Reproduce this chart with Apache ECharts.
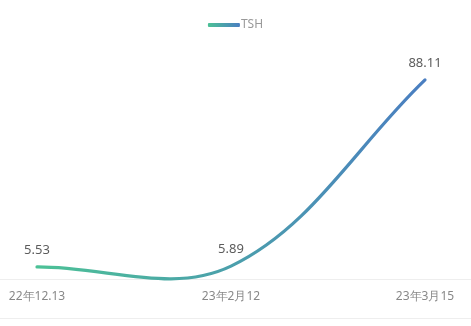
<!DOCTYPE html>
<html>
<head>
<meta charset="utf-8">
<script src="https://cdn.jsdelivr.net/npm/echarts@6/dist/echarts.min.js"></script>
<style>html,body{margin:0;padding:0;background:#fff;}#c{width:471px;height:326px;}</style>
</head>
<body>
<div id="c"></div>
<script>
var categories = ['22年12.13', '23年2月12', '23年3月15'];
var tshValues = [5.53, 5.89, 88.11];
var seriesName = 'TSH';

var SMOOTH = 0.36;
var C0 = '#4cc196', C1 = '#4a7ec1';

function renderItem(params, api) {
  var n = tshValues.length;
  var pts = [];
  for (var i = 0; i < n; i++) pts.push(api.coord([i, tshValues[i]]));
  var idx = params.dataIndexInside;
  var children = [];
  if (idx === 0) {
    var cps = pts.map(function (p, i) {
      var prev = pts[Math.max(0, i - 1)], next = pts[Math.min(n - 1, i + 1)];
      var vx = (next[0] - prev[0]) * SMOOTH, vy = (next[1] - prev[1]) * SMOOTH;
      var d0 = Math.hypot(p[0] - prev[0], p[1] - prev[1]);
      var d1 = Math.hypot(p[0] - next[0], p[1] - next[1]);
      var s = d0 + d1 || 1;
      d0 /= s; d1 /= s;
      return { c0: [p[0] - vx * d0, p[1] - vy * d0], c1: [p[0] + vx * d1, p[1] + vy * d1] };
    });
    var d = 'M' + pts[0][0] + ',' + pts[0][1];
    for (var k = 0; k < n - 1; k++) {
      var a = cps[k].c1, b = cps[k + 1].c0, e = pts[k + 1];
      d += ' C' + a[0] + ',' + a[1] + ' ' + b[0] + ',' + b[1] + ' ' + e[0] + ',' + e[1];
    }
    children.push({
      type: 'path',
      shape: { pathData: d },
      style: {
        fill: null,
        stroke: new echarts.graphic.LinearGradient(pts[0][0], 0, pts[n - 1][0], 0, [
          { offset: 0, color: C0 }, { offset: 1, color: C1 }
        ], true),
        lineWidth: 3.2,
        lineCap: 'round'
      }
    });
  }
  var p = pts[idx];
  children.push({
    type: 'text',
    style: {
      text: String(tshValues[idx]),
      x: p[0], y: p[1] - 10,
      align: 'center', verticalAlign: 'bottom',
      fill: '#5c5c5c',
      font: '13px "Noto Sans", sans-serif'
    },
    z2: 10
  });
  return { type: 'group', children: children };
}

var chart = echarts.init(document.getElementById('c'));
chart.setOption({
  animation: false,
  textStyle: { fontFamily: '"Noto Sans", sans-serif' },
  legend: {
    top: 14,
    left: 'center',
    itemWidth: 32,
    itemHeight: 4,
    itemGap: 4,
    data: [{
      name: seriesName,
      icon: 'roundRect',
      itemStyle: { color: new echarts.graphic.LinearGradient(0, 0, 1, 0, [
        { offset: 0, color: C0 }, { offset: 1, color: C1 }
      ]) }
    }],
    textStyle: { color: '#999', fontSize: 12, padding: [0, 0, 0, -4] }
  },
  grid: { left: 37, right: 46, top: 53, bottom: 46.5, containLabel: false },
  graphic: [
    { type: 'line', shape: { x1: 0, y1: 279.5, x2: 471, y2: 279.5 }, style: { stroke: '#eeeeee', lineWidth: 1 }, z: 0 },
    { type: 'line', shape: { x1: 0, y1: 318.5, x2: 471, y2: 318.5 }, style: { stroke: '#eeeeee', lineWidth: 1 }, z: 0 }
  ],
  xAxis: {
    type: 'category',
    boundaryGap: false,
    data: categories,
    axisLine: { show: false },
    axisTick: { show: false },
    axisLabel: { color: '#888', fontSize: 12, margin: 11 }
  },
  yAxis: {
    type: 'value',
    min: 0,
    max: 100,
    show: false,
    splitLine: { show: false }
  },
  series: [{
    name: seriesName,
    type: 'custom',
    renderItem: renderItem,
    itemStyle: { color: C1 },
    data: tshValues.map(function (v, i) { return [i, v]; }),
    encode: { x: 0, y: 1 }
  }]
});
</script>
</body>
</html>
